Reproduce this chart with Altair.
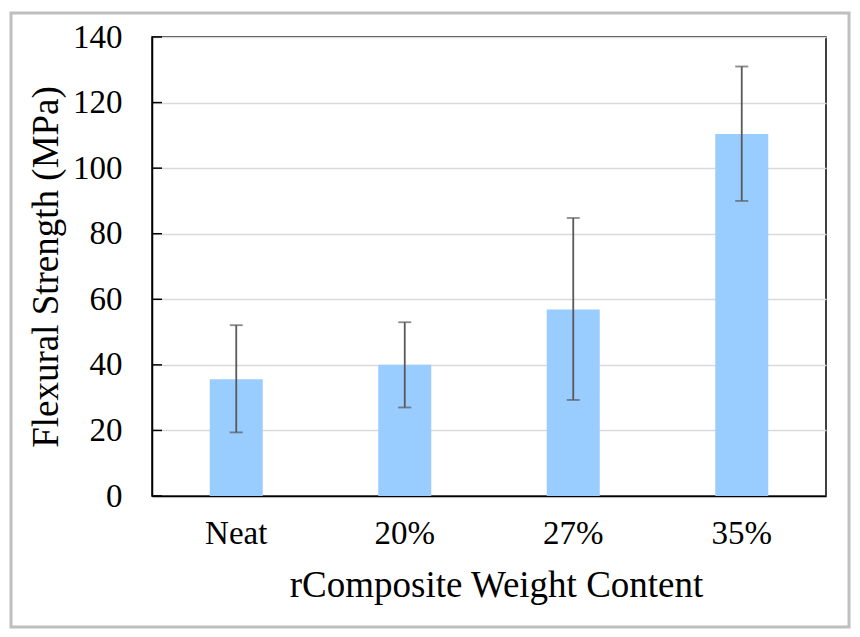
import altair as alt
import pandas as pd

categories = ["Neat", "20%", "27%", "35%"]
strength = [35.6, 40.0, 56.9, 110.4]
err_low = [19.4, 27.0, 29.3, 90.0]
err_high = [52.1, 53.0, 84.8, 131.0]
y_ticks = [0, 20, 40, 60, 80, 100, 120, 140]

df = pd.DataFrame({"cat": categories, "val": strength, "lo": err_low, "hi": err_high})
ticks_df = pd.DataFrame({"t": y_ticks})

FONT = "Liberation Serif"
W, H = 674, 459

x_enc = alt.X("cat:N", sort=categories, title="rComposite Weight Content",
              scale=alt.Scale(paddingInner=0.685, paddingOuter=0.3425),
              axis=alt.Axis(labelFont=FONT, labelFontSize=33, labelColor="black",
                            labelAngle=0, labelPadding=21, titleFont=FONT, titleFontSize=37,
                            titleFontWeight="normal", titleColor="black", titlePadding=17,
                            titleX=W / 2 + 7,
                            ticks=False, domainColor="black", domainWidth=1.5))
y_scale = alt.Scale(domain=[0, 140], nice=False)

bars = alt.Chart(df).mark_bar(color="#99CCFF", width=53).encode(
    x=x_enc,
    y=alt.Y("val:Q", scale=y_scale, title="Flexural Strength (MPa)",
            axis=alt.Axis(values=y_ticks, labelFont=FONT, labelFontSize=33, labelColor="black",
                          labelPadding=30, titleFont=FONT, titleFontSize=37,
                          titleFontWeight="normal", titleColor="black", titlePadding=7,
                          ticks=False, gridColor="#D9D9D9", gridWidth=1.5,
                          domainColor="black", domainWidth=1.5)),
)

err_line = alt.Chart(df).mark_rule(color="#595959", strokeWidth=1.8).encode(
    x=alt.X("cat:N", sort=categories), y="lo:Q", y2="hi:Q")
cap_hi = alt.Chart(df).mark_tick(color="#595959", thickness=1.8, size=13, orient="horizontal").encode(
    x=alt.X("cat:N", sort=categories), y="hi:Q")
cap_lo = alt.Chart(df).mark_tick(color="#595959", thickness=1.8, size=13, orient="horizontal").encode(
    x=alt.X("cat:N", sort=categories), y="lo:Q")

yticks = alt.Chart(ticks_df).mark_rule(color="black", strokeWidth=1.5).encode(
    y=alt.Y("t:Q", scale=y_scale), x=alt.value(0), x2=alt.value(10))

border = alt.Chart(pd.DataFrame({"a": [0]})).mark_rect(
    fill=None, stroke="#BFBFBF", strokeWidth=3, clip=False).encode(
    x=alt.value(-141), x2=alt.value(W + 23), y=alt.value(-24), y2=alt.value(H + 131))

chart = alt.layer(bars, err_line, cap_hi, cap_lo, yticks, border).properties(
    width=W, height=H,
    autosize=alt.AutoSizeParams(type="none"),
    padding={"left": 152, "top": 37, "right": 34, "bottom": 141},
    background="white",
).configure_view(stroke="black", strokeWidth=1.5)

chart.save("out.html", embed_options={"renderer": "svg", "actions": False})
